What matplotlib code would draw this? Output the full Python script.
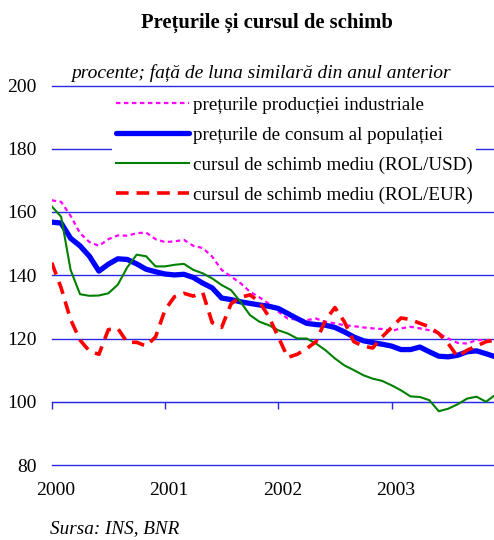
import matplotlib
matplotlib.use('Agg')
import matplotlib.pyplot as plt
import matplotlib.transforms as mtransforms
import numpy as np

years = ['2000', '2001', '2002', '2003']
year_pos = [0, 12, 24, 36]
months = np.arange(48)

ppi = [163.7, 163.2, 158.8, 153.3, 150.5, 149.3, 151.4, 152.6, 152.5, 153.3, 153.5, 151.4,
       150.5, 150.7, 151.2, 149.3, 148.6, 145.9, 141.7, 139.6, 137.5, 134.8, 133.0, 131.0,
       128.5, 126.3, 126.0, 125.8, 126.3, 125.3, 124.8, 124.2, 123.9, 123.5, 123.2, 123.0,
       122.4, 123.2, 123.7, 123.2, 122.6, 121.6, 120.0, 118.6, 118.4, 119.5, 119.5, 119.5]
cpi = [156.8, 156.5, 151.7, 149.3, 146.0, 141.3, 143.5, 145.2, 145.0, 143.6, 141.9, 141.1,
       140.4, 140.1, 140.3, 139.3, 137.5, 136.0, 132.8, 132.3, 131.6, 131.1, 130.6, 130.2,
       129.5, 127.9, 126.3, 124.8, 124.4, 124.2, 123.5, 122.1, 120.5, 119.3, 118.7, 118.2,
       117.6, 116.5, 116.5, 117.3, 115.8, 114.4, 114.2, 114.7, 115.8, 116.1, 115.2, 114.2]
usd = [161.8, 158.5, 141.7, 134.0, 133.5, 133.6, 134.3, 137.0, 142.5, 146.5, 146.0, 142.8,
       142.8, 143.3, 143.6, 141.7, 140.6, 139.0, 136.9, 135.3, 131.6, 127.4, 125.3, 124.2,
       122.6, 121.6, 120.0, 120.0, 118.4, 116.3, 113.7, 111.5, 110.0, 108.4, 107.3, 106.6,
       105.2, 103.6, 101.7, 101.5, 100.5, 97.0, 97.8, 99.2, 101.0, 101.6, 100.0, 102.2]
eur = [144.0, 136.0, 126.0, 119.5, 116.0, 115.0, 122.8, 123.2, 118.8, 118.8, 117.6, 120.5,
       129.0, 133.2, 134.3, 133.4, 134.5, 125.0, 123.5, 131.0, 133.0, 133.8, 131.6, 126.9,
       120.5, 114.0, 115.0, 116.8, 119.0, 125.8, 129.8, 125.3, 119.0, 117.6, 117.0, 120.5,
       123.5, 126.5, 126.0, 124.8, 123.7, 121.6, 118.4, 114.2, 116.3, 117.6, 119.0, 119.5]

labels = ['prețurile producției industriale',
          'prețurile de consum al populației',
          'cursul de schimb mediu (ROL/USD)',
          'cursul de schimb mediu (ROL/EUR)']
yticks = [80, 100, 120, 140, 160, 180, 200]

plt.rcParams['font.family'] = ['Liberation Serif', 'DejaVu Serif']

W, H = 494, 540
fig = plt.figure(figsize=(W / 100, H / 100), dpi=100)
ax = fig.add_axes([51.7 / W, 1 - 465 / H, 1 - 51.7 / W, (465 - 85.5) / H])
ax.set_xlim(0, 46.85)
ax.set_ylim(80, 200)

grid_color = '#2a2ae6'
ax.set_yticks(yticks)
ax.yaxis.grid(True, color=grid_color, lw=1.0, zorder=1)
for gl in ax.get_ygridlines():
    gl.set_clip_on(False)
ax.tick_params(axis='y', length=0, pad=11, labelsize=14)

for s in ['left', 'right', 'top']:
    ax.spines[s].set_visible(False)
ax.spines['bottom'].set_position(('data', 100))
ax.spines['bottom'].set_color(grid_color)
ax.set_xticks(year_pos)
ax.tick_params(axis='x', direction='out', length=5, width=1, color=grid_color,
               labelbottom=False)

sec = ax.secondary_xaxis('bottom')
sec.set_xticks(year_pos, labels=years)
sec.tick_params(length=0, pad=12, labelsize=14)
sec.spines['bottom'].set_visible(False)
offset = mtransforms.ScaledTranslation(4 / 100, 0, fig.dpi_scale_trans)
for lab in sec.get_xticklabels():
    lab.set_transform(lab.get_transform() + offset)

ax.plot(months, ppi, color='#ff00ff', lw=1.6, dashes=(2, 1.6), label=labels[0], zorder=3)
ax.plot(months, cpi, color='#0000ff', lw=3.8, label=labels[1], zorder=3,
        solid_capstyle='round', solid_joinstyle='round')
ax.plot(months, usd, color='#008000', lw=1.5, label=labels[2], zorder=3)
ax.plot(months, eur, color='#ff0000', lw=2.6, dashes=(3.5, 2.2), label=labels[3], zorder=3)

leg = ax.legend(loc='upper left', bbox_to_anchor=(112 / W, 1 - 92.5 / H),
                bbox_transform=fig.transFigure, fontsize=13.65, frameon=True,
                facecolor='white', edgecolor='none', framealpha=1, fancybox=False,
                handlelength=3.85, handletextpad=0.2, labelspacing=0.68,
                borderpad=0.2, borderaxespad=0)
leg.set_zorder(5)

fig.text(267 / W, 1 - 23 / H, 'Prețurile și cursul de schimb', ha='center', va='center',
         fontsize=14.9, fontweight='bold')
fig.text(261 / W, 1 - 73 / H, 'procente; față de luna similară din anul anterior',
         ha='center', va='center', fontsize=14, style='italic')
fig.text(50 / W, 1 - 529 / H, 'Sursa: INS, BNR', ha='left', va='center',
         fontsize=13.75, style='italic')

fig.savefig('out.png', dpi=100)
